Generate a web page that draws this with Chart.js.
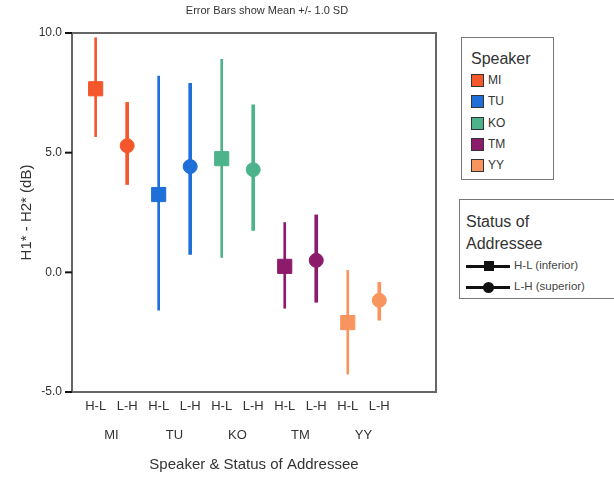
<!DOCTYPE html>
<html>
<head>
<meta charset="utf-8">
<script src="https://cdn.jsdelivr.net/npm/chart.js@4.4.1/dist/chart.umd.min.js"></script>
<style>
html, body { margin: 0; padding: 0; background: #fff; }
#wrap { position: relative; width: 614px; height: 479px; font-family: "Liberation Sans", Arial, sans-serif; color: #333; }
#chart { position: absolute; left: 0; top: 0; }
.title { position: absolute; left: 167px; width: 200px; top: 4px; text-align: center; font-size: 11px; color: #333; }
.legend { position: absolute; border: 1.5px solid #777; background: #fff; box-sizing: border-box; }
.legend .head { font-size: 16px; color: #333; line-height: 22px; }
.legend .row { position: relative; height: 21.3px; font-size: 12px; line-height: 21px; color: #333; }
.swatch { position: absolute; left: 0; top: 4px; width: 11px; height: 11px; border: 1px solid #333; }
.row .txt { position: absolute; left: 17px; }
.sym { position: absolute; left: 0; top: 10px; width: 44px; height: 3px; background: #111; }
.sym .sq { position: absolute; left: 18px; top: -4px; width: 10px; height: 10px; background: #111; }
.sym .ci { position: absolute; left: 17px; top: -4.5px; width: 11px; height: 11px; background: #111; border-radius: 50%; }
.row .txt2 { position: absolute; left: 48px; font-size: 11.5px; color: #444; }
</style>
</head>
<body>
<div id="wrap">
  <canvas id="chart" width="614" height="479"></canvas>
  <div class="title">Error Bars show Mean +/- 1.0 SD</div>
  <div class="legend" id="speakerLegend" style="left:461px; top:37px; width:93px; height:143px; padding:10px 0 0 9px;">
    <div class="head">Speaker</div>
  </div>
  <div class="legend" id="statusLegend" style="left:459px; top:199px; width:160px; height:100px; padding:11px 0 0 6px;">
    <div class="head">Status of<br>Addressee</div>
    <div class="row"><div class="sym"><div class="sq"></div></div><span class="txt2">H-L (inferior)</span></div>
    <div class="row"><div class="sym"><div class="ci"></div></div><span class="txt2">L-H (superior)</span></div>
  </div>
</div>
<script>
const speakers = ['MI', 'TU', 'KO', 'TM', 'YY'];
const statusLabels = ['H-L', 'L-H'];
const speakerColors = ['#f4572b', '#1f6fd8', '#4db38b', '#8c1b6c', '#f8955f'];

// H-L (inferior) addressee
const hlMean = [7.67, 3.25, 4.75, 0.25, -2.1];
const hlLow  = [5.67, -1.58, 0.62, -1.5, -4.25];
const hlHigh = [9.8, 8.2, 8.9, 2.08, 0.08];

// L-H (superior) addressee
const lhMean = [5.29, 4.42, 4.29, 0.5, -1.17];
const lhLow  = [3.67, 0.75, 1.75, -1.25, -2.0];
const lhHigh = [7.1, 7.9, 7.0, 2.4, -0.42];

const yTicks = [-5, 0, 5, 10];

// slot on the x axis: H-L at 1,3,5.., L-H at 2,4,6..
const hlSlot = i => 2 * i + 1;
const lhSlot = i => 2 * i + 2;

// legend rows for speakers
const spLegend = document.getElementById('speakerLegend');
speakers.forEach((s, i) => {
    const row = document.createElement('div');
    row.className = 'row';
    row.innerHTML = `<div class="swatch" style="background:${speakerColors[i]}"></div><span class="txt">${s}</span>`;
    spLegend.appendChild(row);
});

// frame round the plot + outside tick marks on y
const framePlugin = {
    id: 'frame',
    afterDatasetsDraw(chart) {
        const {ctx, chartArea: a} = chart;
        const yScale = chart.scales.y;
        ctx.save();
        ctx.strokeStyle = '#666';
        ctx.lineWidth = 2;
        ctx.strokeRect(a.left, a.top, a.right - a.left, a.bottom - a.top);
        ctx.strokeStyle = '#111';
        yScale.ticks.forEach(t => {
            const py = yScale.getPixelForValue(t.value);
            ctx.beginPath();
            ctx.moveTo(a.left - 7, py);
            ctx.lineTo(a.left, py);
            ctx.stroke();
        });
        ctx.restore();
    }
};

const ctx = document.getElementById('chart').getContext('2d');
new Chart(ctx, {
    type: 'scatter',
    data: {
        datasets: [
            {
                type: 'bar',
                label: 'H-L SD',
                data: speakers.map((s, i) => ({x: hlSlot(i), y: [hlLow[i], hlHigh[i]]})),
                backgroundColor: speakerColors,
                barThickness: 2,
                grouped: false,
                order: 2
            },
            {
                type: 'bar',
                label: 'L-H SD',
                data: speakers.map((s, i) => ({x: lhSlot(i), y: [lhLow[i], lhHigh[i]]})),
                backgroundColor: speakerColors,
                barThickness: 3,
                grouped: false,
                order: 2
            },
            {
                label: 'H-L (inferior)',
                data: speakers.map((s, i) => ({x: hlSlot(i), y: hlMean[i]})),
                pointStyle: 'rect',
                pointRadius: 10,
                backgroundColor: speakerColors,
                borderColor: speakerColors,
                borderWidth: 1,
                order: 1
            },
            {
                label: 'L-H (superior)',
                data: speakers.map((s, i) => ({x: lhSlot(i), y: lhMean[i]})),
                pointStyle: 'circle',
                pointRadius: 7,
                backgroundColor: speakerColors,
                borderColor: speakerColors,
                borderWidth: 1,
                order: 1
            }
        ]
    },
    options: {
        responsive: false,
        animation: false,
        layout: { padding: { top: 33, right: 178, left: 0, bottom: 0 } },
        plugins: {
            legend: { display: false },
            tooltip: { enabled: false }
        },
        scales: {
            x: {
                type: 'linear',
                position: 'bottom',
                weight: 0,
                min: 0.25,
                max: 11.8,
                offset: false,
                grid: { display: false, offset: false, drawTicks: false },
                border: { display: false },
                afterBuildTicks: scale => { scale.ticks = speakers.flatMap((s, i) => [{value: hlSlot(i)}, {value: lhSlot(i)}]); },
                afterFit: scale => { scale.height = 28; },
                ticks: {
                    padding: 7,
                    maxRotation: 0,
                    autoSkip: false,
                    color: '#333',
                    font: { family: '"Liberation Sans", Arial, sans-serif', size: 13 },
                    callback: v => statusLabels[(v - 1) % 2]
                }
            },
            x2: {
                type: 'linear',
                position: 'bottom',
                weight: 1,
                min: 0.25,
                max: 11.8,
                offset: false,
                grid: { display: false, drawTicks: false },
                border: { display: false },
                afterBuildTicks: scale => { scale.ticks = speakers.map((s, i) => ({value: hlSlot(i) + 0.5})); },
                afterFit: scale => { scale.height = 59; },
                ticks: {
                    padding: 8,
                    maxRotation: 0,
                    autoSkip: false,
                    color: '#333',
                    font: { family: '"Liberation Sans", Arial, sans-serif', size: 13 },
                    callback: v => speakers[Math.round((v - 1.5) / 2)]
                },
                title: {
                    display: true,
                    text: 'Speaker & Status of Addressee',
                    color: '#333',
                    font: { family: '"Liberation Sans", Arial, sans-serif', size: 15 },
                    padding: { top: 0, bottom: 5 }
                }
            },
            y: {
                type: 'linear',
                min: -5,
                max: 10,
                afterBuildTicks: scale => { scale.ticks = yTicks.map(v => ({value: v})); },
                afterFit: scale => { scale.width = 72; },
                grid: { display: false, tickLength: 8 },
                border: { display: true, color: '#555', width: 2 },
                ticks: {
                    padding: 2,
                    color: '#333',
                    font: { family: '"Liberation Sans", Arial, sans-serif', size: 12 },
                    callback: v => v.toFixed(1)
                },
                title: {
                    display: true,
                    text: 'H1* - H2* (dB)',
                    color: '#333',
                    font: { family: '"Liberation Sans", Arial, sans-serif', size: 15 },
                    padding: { top: 18, bottom: 0 }
                }
            }
        }
    },
    plugins: [framePlugin]
});
</script>
</body>
</html>
